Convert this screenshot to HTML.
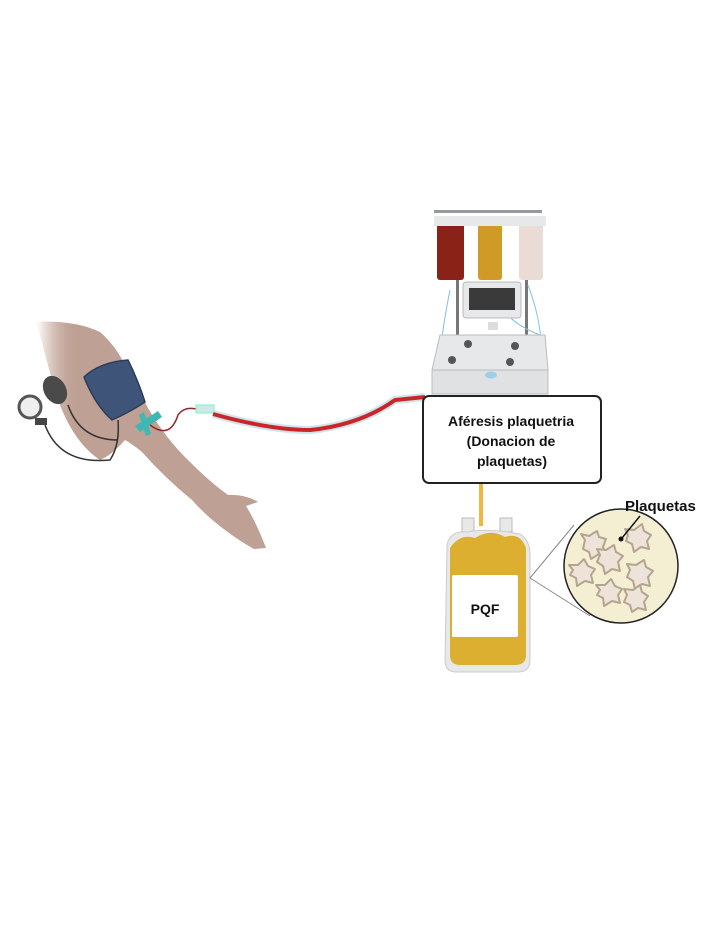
<!DOCTYPE html>
<html><head><meta charset="utf-8"><style>html,body{margin:0;padding:0;background:#fff}svg{display:block}</style></head>
<body>
<svg width="715" height="930" viewBox="0 0 715 930" xmlns="http://www.w3.org/2000/svg" font-family="Liberation Sans, sans-serif">
<defs><linearGradient id="sh" x1="0" x2="1"><stop offset="0" stop-color="#fff"/><stop offset="0.6" stop-color="#c9aea3" stop-opacity="0"/></linearGradient></defs>
<!-- arm -->
<path d="M37 322 Q75 320 100 332 Q115 345 125 365 L148 408 Q165 438 190 462 Q210 482 228 495 Q245 494 258 502 L246 506 Q256 522 266 548 L254 549 Q238 540 225 530 Q205 515 192 500 Q165 478 142 452 Q132 444 125 440 Q112 455 100 460 Q70 440 55 390 Q45 355 37 322 Z" fill="#bea094"/>
<path d="M37 322 Q45 355 55 390 Q68 430 95 458 L100 330 Q70 320 37 322 Z" fill="url(#sh)"/>
<!-- cuff -->
<path d="M84 377 Q100 362 128 360 Q138 380 145 402 Q130 412 112 420 Q95 405 84 377 Z" fill="#3e5478" stroke="#2c3d5a" stroke-width="1.5"/>
<!-- bulb & gauge -->
<ellipse cx="55" cy="390" rx="11" ry="15" transform="rotate(-30 55 390)" fill="#4a4a4a"/>
<circle cx="30" cy="407" r="11" fill="#eee" stroke="#555" stroke-width="3"/>
<rect x="35" y="418" width="12" height="7" fill="#444"/>
<path d="M45 425 Q60 465 110 460 Q120 445 118 420" fill="none" stroke="#333" stroke-width="1.5"/>
<path d="M68 405 Q80 440 118 440" fill="none" stroke="#333" stroke-width="1.5"/>
<!-- butterfly -->
<path d="M135 426 L158 411 L162 417 L140 432 Z M144 412 L151 434 L146 436 L139 415 Z" fill="#3fb8b4"/>
<path d="M150 425 Q170 440 178 415 Q185 405 200 410" fill="none" stroke="#8b2a2a" stroke-width="1.5"/>
<rect x="196" y="405" width="18" height="8" fill="#cfe7ea" stroke="#6fb" stroke-width="1"/>
<!-- tube -->
<path d="M213 414 Q270 430 310 430 Q360 425 395 400 L425 397" fill="none" stroke="#cfe5ea" stroke-width="8"/>
<path d="M213 414 Q270 430 310 430 Q360 425 395 400 L425 397" fill="none" stroke="#c9262a" stroke-width="4"/>
<!-- machine -->
<rect x="434" y="210" width="108" height="3" fill="#999"/>
<rect x="456" y="230" width="3" height="110" fill="#777"/><rect x="525" y="230" width="3" height="110" fill="#777"/>
<rect x="437" y="222" width="27" height="58" rx="3" fill="#8a2218"/>
<rect x="478" y="222" width="24" height="58" rx="3" fill="#cf9a26"/>
<rect x="519" y="222" width="24" height="58" rx="3" fill="#eadcd4"/>
<rect x="434" y="216" width="112" height="10" fill="#e6e8ea"/>
<path d="M450 290 Q440 340 440 365 M528 285 Q545 330 540 365 M490 285 Q500 320 540 335" fill="none" stroke="#7fc2df" stroke-width="1"/>
<rect x="463" y="282" width="58" height="36" rx="3" fill="#e6e8ea" stroke="#bbb"/>
<rect x="469" y="288" width="46" height="22" fill="#3a3a3a"/>
<rect x="488" y="322" width="10" height="8" fill="#ddd"/>
<path d="M440 335 L545 335 L548 370 L432 370 Z" fill="#e6e8ea" stroke="#bbb"/>
<rect x="432" y="370" width="116" height="24" fill="#dfe1e3" stroke="#bbb"/>
<circle cx="468" cy="344" r="4" fill="#555"/><circle cx="515" cy="346" r="4" fill="#555"/><circle cx="452" cy="360" r="4" fill="#555"/><circle cx="510" cy="362" r="4" fill="#555"/>
<ellipse cx="491" cy="375" rx="6" ry="3.5" fill="#9fcfe5"/>
<!-- box -->
<rect x="423" y="396" width="178" height="87" rx="6" fill="#fff" stroke="#222" stroke-width="2"/>
<g font-size="14" font-weight="bold" text-anchor="middle" fill="#111">
<text x="511" y="426">Aféresis plaquetria</text>
<text x="511" y="446">(Donacion de</text>
<text x="512" y="466">plaquetas)</text>
</g>
<!-- bag -->
<rect x="479" y="484" width="4" height="42" fill="#f0b73a"/>
<rect x="462" y="518" width="12" height="14" fill="#e8e8e8" stroke="#bbb"/>
<rect x="500" y="518" width="12" height="14" fill="#e8e8e8" stroke="#bbb"/>
<path d="M447 545 Q450 530 468 532 Q488 528 520 534 Q530 540 530 555 L530 660 Q530 672 518 672 L456 672 Q445 672 445 660 Z" fill="#e8e8e8" stroke="#ccc"/>
<path d="M450 548 Q460 533 475 538 Q490 528 505 537 Q520 532 526 548 L526 655 Q526 665 515 665 L460 665 Q450 665 450 655 Z" fill="#ddaf30"/>
<rect x="452" y="575" width="66" height="62" rx="2" fill="#fff"/>
<text x="485" y="614" font-size="14" font-weight="bold" text-anchor="middle" fill="#111">PQF</text>
<!-- zoom circle -->
<path d="M530 578 L574 525 M530 578 L590 616" stroke="#888" stroke-width="1"/>
<circle cx="621" cy="566" r="57" fill="#f4efd3" stroke="#222" stroke-width="1.5"/>
<g fill="#ede3d8" stroke="#b5a48f" stroke-width="2" stroke-linejoin="round">
<path d="M585 540 l-4 -6 l8 2 l8 -5 l2 6 l7 2 l-3 8 l4 8 l-8 -1 l-8 5 l-2 -7 l-6 -3 z"/>
<path d="M600 555 l-3 -6 l9 1 l8 -5 l2 7 l7 4 l-5 6 l2 9 l-8 -2 l-7 5 l-2 -8 l-6 -4 z"/>
<path d="M573 570 l-4 -5 l9 0 l6 -6 l4 7 l7 3 l-4 6 l2 8 l-8 -2 l-8 5 l-1 -8 l-6 -3 z"/>
<path d="M628 535 l-3 -6 l9 1 l8 -6 l2 7 l7 4 l-4 6 l2 8 l-8 -2 l-7 5 l-2 -8 l-6 -3 z"/>
<path d="M630 570 l-3 -6 l9 1 l8 -5 l2 7 l7 4 l-5 6 l2 9 l-8 -2 l-7 5 l-2 -8 l-6 -4 z"/>
<path d="M600 590 l-4 -5 l9 0 l6 -6 l4 7 l7 3 l-4 6 l2 8 l-8 -2 l-8 5 l-1 -8 l-6 -3 z"/>
<path d="M627 595 l-3 -6 l9 1 l7 -5 l2 7 l6 4 l-4 6 l2 8 l-8 -2 l-6 4 l-2 -7 l-6 -3 z"/>
</g>
<path d="M622 538 L640 516" stroke="#111" stroke-width="1.5"/><circle cx="621" cy="539" r="2.5" fill="#111"/>
<text x="625" y="511" font-size="15" font-weight="bold" fill="#111">Plaquetas</text>
</svg>
</body></html>
